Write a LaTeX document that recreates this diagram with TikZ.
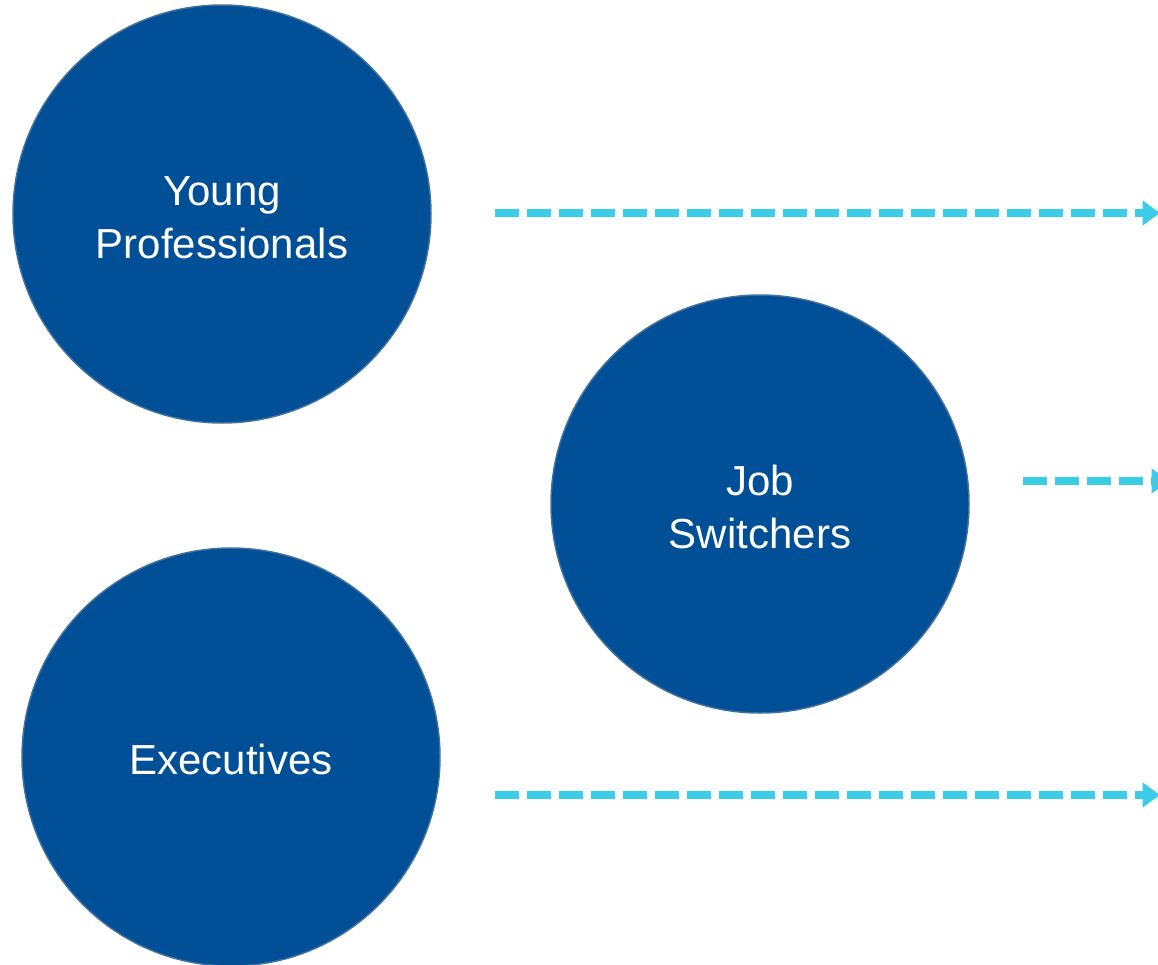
\documentclass[tikz,border=0pt]{standalone}
\usepackage{fontspec}
\setmainfont{Liberation Sans}
\usepackage{tikz}
\usetikzlibrary{arrows.meta,shapes,positioning}
\definecolor{segblue}{HTML}{004F97}
\definecolor{segline}{HTML}{41719C}
\definecolor{flowcyan}{HTML}{3BCDE8}
\newcommand{\segstrut}{\rule{0pt}{27pt}}

\begin{document}
\begin{tikzpicture}[x=0.75pt,y=-0.75pt,
	seg/.style={circle,draw=segline,line width=1.1pt,fill=segblue,text=white,minimum size=313.5pt,inner sep=0pt,align=center,font=\fontsize{31.5pt}{39.75pt}\selectfont},
	flow/.style={draw=flowcyan,line width=6pt,dash pattern=on 18pt off 6pt,-{Triangle[length=13pt,width=18pt]}}]
	\useasboundingbox (0,0) rectangle (1158,965);
	\node[seg]	(young)	at (222,214) {\segstrut Young\\Professionals};
	\node[seg]	(jobs)	at (760,504) {\segstrut Job\\Switchers};
	\node[seg]	(exec)	at (231,757) {\segstrut Executives};
	\coordinate (youngA) at (495,213);
	\coordinate (youngB) at (1160,213);
	\coordinate (jobsA) at (1023,481);
	\coordinate (jobsB) at (1169,481);
	\coordinate (execA) at (495,795);
	\coordinate (execB) at (1160,795);
	\draw[flow] (youngA) -- (youngB);
	\draw[flow] (jobsA) -- (jobsB);
	\draw[flow] (execA) -- (execB);
\end{tikzpicture}
\end{document}
